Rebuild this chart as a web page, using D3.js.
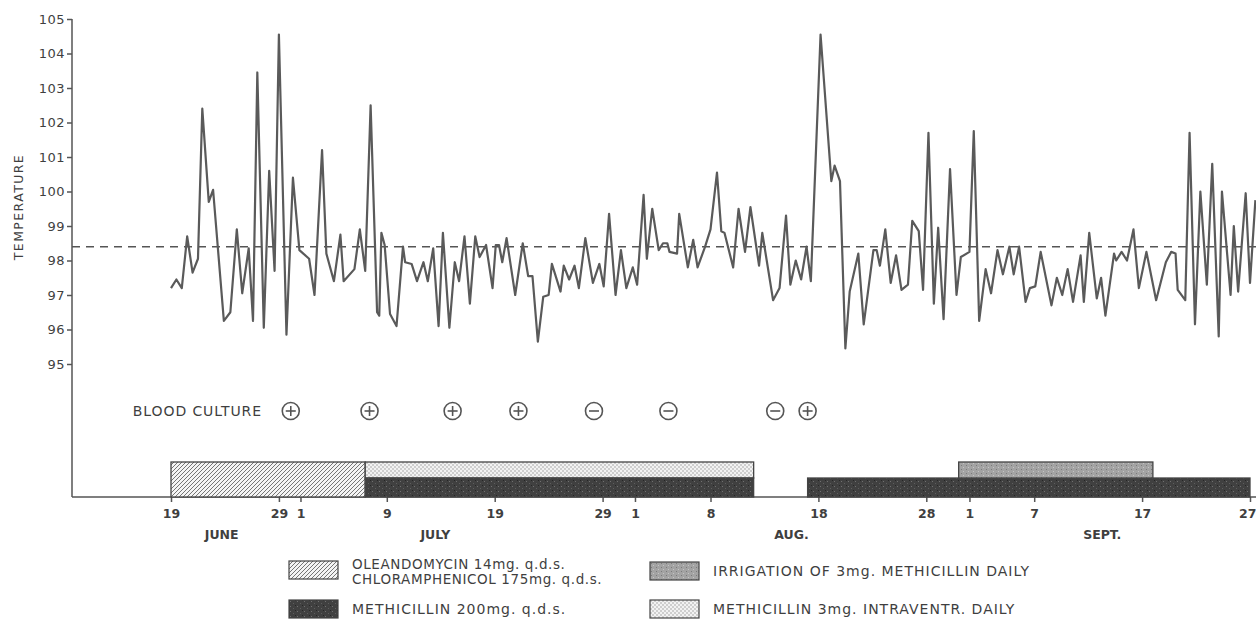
<!DOCTYPE html>
<html>
<head>
<meta charset="utf-8">
<script src="https://cdn.jsdelivr.net/npm/d3@7/dist/d3.min.js"></script>
<style>
  body { margin: 0; background: #fff; }
  text { font-family: "DejaVu Sans", "Liberation Sans", Arial, sans-serif; fill: #3f3f3f; }
</style>
</head>
<body>
<div id="chart"></div>
<script>
// define variables
const width = 1256;
const height = 619;

///
/// DATA (days counted from 19 June, two readings a day)
///

const readingDay = [
  0.0, 0.5, 1.0, 1.5, 2.0, 2.5, 2.9, 3.5, 3.9, 4.9, 5.5, 6.1, 6.6, 7.2, 7.6, 8.0, 8.6, 9.1, 9.6, 10.0,
  10.7, 11.3, 11.9, 12.8, 13.3, 14.0, 14.4, 15.1, 15.7, 16.0, 17.0, 17.5, 18.0, 18.5, 19.1, 19.3, 19.5, 19.8, 20.3, 20.9,
  21.5, 21.7, 22.3, 22.8, 23.4, 23.8, 24.3, 24.8, 25.2, 25.8, 26.3, 26.7, 27.2, 27.7, 28.2, 28.6, 29.2, 29.8, 30.1, 30.4,
  30.7, 31.1, 31.9, 32.6, 33.1, 33.5, 34.0, 34.5, 35.0, 35.3, 36.1, 36.4, 36.9, 37.4, 37.8, 38.4, 39.1, 39.7, 40.1, 40.6,
  41.2, 41.7, 42.2, 42.8, 43.2, 43.8, 44.1, 44.6, 45.2, 45.6, 46.0, 46.2, 46.9, 47.1, 47.9, 48.4, 48.8, 49.5, 50.0, 50.6,
  51.0, 51.3, 52.1, 52.6, 53.2, 53.7, 54.5, 54.8, 55.8, 56.4, 57.0, 57.4, 57.9, 58.4, 58.9, 59.3, 60.2, 61.2, 61.5, 62.0,
  62.5, 62.9, 63.7, 64.2, 65.1, 65.4, 65.7, 66.2, 66.7, 67.2, 67.7, 68.3, 68.7, 69.3, 69.7, 70.2, 70.7, 71.1, 71.6, 72.2,
  72.8, 73.2, 74.0, 74.4, 74.9, 75.5, 76.0, 76.6, 77.1, 77.7, 78.1, 78.6, 79.2, 79.6, 80.1, 80.6, 81.6, 82.1, 82.6, 83.1,
  83.6, 84.3, 84.6, 85.1, 85.8, 86.2, 86.6, 87.4, 87.6, 88.1, 88.6, 89.2, 89.7, 90.4, 91.3, 92.2, 92.7, 93.1, 93.3, 94.0,
  94.4, 94.9, 95.4, 96.0, 96.5, 97.1, 97.4, 98.2, 98.5, 98.9, 99.6, 100.0, 100.5
];
const readingTemp = [
  97.2, 97.45, 97.2, 98.7, 97.65, 98.05, 102.4, 99.7, 100.05, 96.25, 96.5, 98.9, 97.05, 98.35, 96.25, 103.45, 96.05, 100.6, 97.7, 104.55,
  95.85, 100.4, 98.3, 98.05, 97.0, 101.2, 98.2, 97.4, 98.75, 97.4, 97.75, 98.9, 97.7, 102.5, 96.5, 96.4, 98.8, 98.45, 96.45, 96.1,
  98.4, 97.95, 97.9, 97.4, 97.95, 97.4, 98.35, 96.1, 98.8, 96.05, 97.95, 97.4, 98.7, 96.75, 98.7, 98.1, 98.45, 97.2, 98.45, 98.45,
  97.95, 98.65, 97.0, 98.5, 97.55, 97.55, 95.65, 96.95, 97.0, 97.9, 97.1, 97.85, 97.45, 97.85, 97.2, 98.65, 97.35, 97.9, 97.25, 99.35,
  97.0, 98.3, 97.2, 97.8, 97.3, 99.9, 98.05, 99.5, 98.3, 98.5, 98.5, 98.25, 98.2, 99.35, 97.8, 98.6, 97.8, 98.4, 98.9, 100.55,
  98.85, 98.8, 97.8, 99.5, 98.25, 99.55, 97.85, 98.8, 96.85, 97.2, 99.3, 97.3, 98.0, 97.45, 98.4, 97.4, 104.55, 100.3, 100.75, 100.3,
  95.45, 97.1, 98.2, 96.15, 98.3, 98.3, 97.85, 98.9, 97.35, 98.15, 97.15, 97.3, 99.15, 98.85, 97.15, 101.7, 96.75, 98.95, 96.3, 100.65,
  97.0, 98.1, 98.25, 101.75, 96.25, 97.75, 97.05, 98.3, 97.6, 98.4, 97.6, 98.4, 96.8, 97.2, 97.25, 98.25, 96.7, 97.5, 97.0, 97.75,
  96.8, 98.15, 96.8, 98.8, 96.9, 97.5, 96.4, 98.2, 98.0, 98.25, 98.0, 98.9, 97.2, 98.25, 96.85, 97.95, 98.25, 98.2, 97.15, 96.85,
  101.7, 96.15, 100.0, 97.3, 100.8, 95.8, 100.0, 97.0, 99.0, 97.1, 99.95, 97.35, 99.75
];
const normalTemp = 98.4;

const tempTicks = [95, 96, 97, 98, 99, 100, 101, 102, 103, 104, 105];
const tickDays = [0, 10, 12, 20, 30, 40, 43, 50, 60, 70, 74, 80, 90, 100];
const tickLabels = ['19', '29', '1', '9', '19', '29', '1', '8', '18', '28', '1', '7', '17', '27'];
const monthDays = [4.7, 24.5, 57.5, 86.3];
const monthNames = ['JUNE', 'JULY', 'AUG.', 'SEPT.'];

const cultureDays = [11.1, 18.4, 26.1, 32.2, 39.2, 46.1, 56.0, 59.0];
const cultureSigns = ['+', '+', '+', '+', '-', '-', '-', '+'];

// treatment blocks
const blockDrug = ['olean', 'intra', 'meth', 'meth', 'irrig'];
const blockStart = [0, 18, 18, 59, 73];
const blockEnd = [18, 54, 54, 100, 91];
const blockRow = ['full', 'top', 'bottom', 'bottom', 'top'];

// legend
const legendDrug = ['olean', 'irrig', 'meth', 'intra'];
const legendText = [
  ['OLEANDOMYCIN 14mg. q.d.s.', 'CHLORAMPHENICOL 175mg. q.d.s.'],
  ['IRRIGATION OF 3mg. METHICILLIN DAILY'],
  ['METHICILLIN 200mg. q.d.s.'],
  ['METHICILLIN 3mg. INTRAVENTR. DAILY']
];

///
/// SCALES
///

const x = d3.scaleLinear().domain([0, 100]).range([171, 1250]);
const y = d3.scaleLinear().domain([95, 105]).range([364, 19]);
const axisX = 72;
const baseY = 497;

const svg = d3.select("#chart")
  .append("svg")
  .attr("width", width)
  .attr("height", height)
  .attr("viewBox", [0, 0, width, height]);

///
/// PATTERNS
///

const defs = svg.append("defs");

const hatch = defs.append("pattern")
  .attr("id", "fill-olean")
  .attr("patternUnits", "userSpaceOnUse")
  .attr("width", 4).attr("height", 4);
hatch.append("rect").attr("width", 4).attr("height", 4).attr("fill", "#f4f4f4");
hatch.append("path")
  .attr("d", "M-1,1 l2,-2 M0,4 l4,-4 M3,5 l2,-2")
  .attr("stroke", "#666").attr("stroke-width", 0.9);

const stip = defs.append("pattern")
  .attr("id", "fill-intra")
  .attr("patternUnits", "userSpaceOnUse")
  .attr("width", 4).attr("height", 4);
stip.append("rect").attr("width", 4).attr("height", 4).attr("fill", "#f2f2f2");
stip.append("circle").attr("cx", 1).attr("cy", 1).attr("r", 0.75).attr("fill", "#999");
stip.append("circle").attr("cx", 3).attr("cy", 3).attr("r", 0.75).attr("fill", "#999");

const dark = defs.append("pattern")
  .attr("id", "fill-meth")
  .attr("patternUnits", "userSpaceOnUse")
  .attr("width", 7).attr("height", 5);
dark.append("rect").attr("width", 7).attr("height", 5).attr("fill", "#404040");
dark.append("rect").attr("x", 1).attr("y", 1).attr("width", 1).attr("height", 1).attr("fill", "#707070");
dark.append("rect").attr("x", 4).attr("y", 3).attr("width", 1).attr("height", 1).attr("fill", "#5e5e5e");
dark.append("rect").attr("x", 6).attr("y", 0).attr("width", 1).attr("height", 1).attr("fill", "#262626");

const irrig = defs.append("pattern")
  .attr("id", "fill-irrig")
  .attr("patternUnits", "userSpaceOnUse")
  .attr("width", 5).attr("height", 4);
irrig.append("rect").attr("width", 5).attr("height", 4).attr("fill", "#a3a3a3");
irrig.append("rect").attr("x", 1).attr("y", 1).attr("width", 1).attr("height", 1).attr("fill", "#7a7a7a");
irrig.append("rect").attr("x", 3).attr("y", 3).attr("width", 1).attr("height", 1).attr("fill", "#c4c4c4");

///
/// AXES
///

const yAxis = svg.append("g")
  .attr("transform", `translate(${axisX},0)`)
  .call(d3.axisLeft(y).tickValues(tempTicks).tickSize(5).tickPadding(2));
yAxis.select(".domain").remove();
yAxis.selectAll(".tick line").attr("stroke", "#555").attr("stroke-width", 1.5);
yAxis.selectAll(".tick text").attr("font-size", 13).attr("fill", "#3f3f3f").attr("letter-spacing", 0.5);

svg.append("line")
  .attr("x1", axisX).attr("x2", axisX)
  .attr("y1", y(105)).attr("y2", baseY)
  .attr("stroke", "#555").attr("stroke-width", 1.5);

svg.append("text")
  .attr("transform", `translate(23,${y(99.55)}) rotate(-90)`)
  .attr("text-anchor", "middle")
  .attr("font-size", 12.5)
  .attr("letter-spacing", 1.4)
  .text("TEMPERATURE");

const xAxis = svg.append("g")
  .attr("transform", `translate(0,${baseY})`)
  .call(d3.axisBottom(x).tickValues(tickDays).tickFormat((d, i) => tickLabels[i]).tickSize(5).tickPadding(7));
xAxis.select(".domain").remove();
xAxis.selectAll(".tick line").attr("stroke", "#555").attr("stroke-width", 1.5);
xAxis.selectAll(".tick text")
  .attr("font-size", 12.5)
  .attr("font-weight", "bold")
  .attr("fill", "#3f3f3f")
  .attr("text-anchor", (d, i) => i === tickDays.length - 1 ? "end" : "middle")
  .attr("dx", (d, i) => i === tickDays.length - 1 ? 6 : 0);

svg.append("line")
  .attr("x1", axisX).attr("x2", width)
  .attr("y1", baseY).attr("y2", baseY)
  .attr("stroke", "#555").attr("stroke-width", 1.5);

svg.append("g")
  .selectAll("text")
  .data(monthNames)
  .join("text")
  .attr("x", (d, i) => x(monthDays[i]))
  .attr("y", baseY + 42)
  .attr("text-anchor", "middle")
  .attr("font-size", 12.5)
  .attr("font-weight", "bold")
  .text(d => d);

///
/// TEMPERATURE LINE
///

svg.append("line")
  .attr("x1", axisX).attr("x2", width)
  .attr("y1", y(normalTemp)).attr("y2", y(normalTemp))
  .attr("stroke", "#555").attr("stroke-width", 1.5)
  .attr("stroke-dasharray", "8,6");

const readings = readingDay.map((d, i) => ({ day: d, temp: readingTemp[i] }));

svg.append("path")
  .datum(readings)
  .attr("fill", "none")
  .attr("stroke", "#5a5a5a")
  .attr("stroke-width", 2.2)
  .attr("stroke-linejoin", "round")
  .attr("d", d3.line().x(d => x(d.day)).y(d => y(d.temp)));

///
/// BLOOD CULTURES
///

const cultureY = 411;

svg.append("text")
  .attr("x", 262)
  .attr("y", cultureY + 5)
  .attr("text-anchor", "end")
  .attr("font-size", 14)
  .attr("letter-spacing", 0.9)
  .text("BLOOD CULTURE");

const cultures = svg.append("g")
  .selectAll("g")
  .data(cultureDays)
  .join("g")
  .attr("transform", d => `translate(${x(d)},${cultureY})`);

cultures.append("circle")
  .attr("r", 8.5)
  .attr("fill", "none")
  .attr("stroke", "#555")
  .attr("stroke-width", 1.6);

cultures.append("line")
  .attr("x1", -5).attr("x2", 5)
  .attr("stroke", "#555").attr("stroke-width", 1.6);

cultures.filter((d, i) => cultureSigns[i] === '+')
  .append("line")
  .attr("y1", -5).attr("y2", 5)
  .attr("stroke", "#555").attr("stroke-width", 1.6);

///
/// TREATMENT BLOCKS
///

const rowTop = { full: 462, top: 462, bottom: 478 };
const rowBottom = { full: baseY, top: 478, bottom: baseY };

svg.append("g")
  .selectAll("rect")
  .data(blockDrug)
  .join("rect")
  .attr("x", (d, i) => x(blockStart[i]))
  .attr("y", (d, i) => rowTop[blockRow[i]])
  .attr("width", (d, i) => x(blockEnd[i]) - x(blockStart[i]))
  .attr("height", (d, i) => rowBottom[blockRow[i]] - rowTop[blockRow[i]])
  .attr("fill", d => `url(#fill-${d})`)
  .attr("stroke", "#444")
  .attr("stroke-width", 1.3);

///
/// LEGEND
///

const legendX = [289, 650, 289, 650];
const legendY = [561, 562, 600, 600];

const legend = svg.append("g")
  .selectAll("g")
  .data(legendDrug)
  .join("g")
  .attr("transform", (d, i) => `translate(${legendX[i]},${legendY[i]})`);

legend.append("rect")
  .attr("width", 49)
  .attr("height", 18)
  .attr("fill", d => `url(#fill-${d})`)
  .attr("stroke", "#444")
  .attr("stroke-width", 1.2);

legend.each(function (d, i) {
  const lines = legendText[i];
  const g = d3.select(this);
  lines.forEach((t, j) => {
    g.append("text")
      .attr("x", 63)
      .attr("y", lines.length === 1 ? 14 : 8 + j * 15)
      .attr("font-size", lines.length === 1 ? 14 : 13.5)
      .attr("letter-spacing", lines.length === 1 ? 1.0 : 0.6)
      .text(t);
  });
});
</script>
</body>
</html>
